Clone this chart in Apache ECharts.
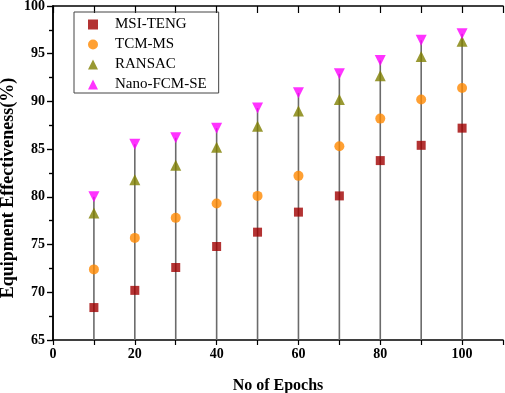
<!DOCTYPE html>
<html>
<head>
<meta charset="utf-8">
<script src="https://cdn.jsdelivr.net/npm/echarts@6/dist/echarts.min.js"></script>
<style>
  html, body { margin: 0; padding: 0; background: #fff; }
  #chart { width: 505px; height: 393px; }
</style>
</head>
<body>
<div id="chart"></div>
<script>
var epochs = [10, 20, 30, 40, 50, 60, 70, 80, 90, 100];
var msiTeng = [68.4, 70.2, 72.6, 74.8, 76.3, 78.4, 80.1, 83.8, 85.4, 87.2];
var tcmMs = [72.4, 75.7, 77.8, 79.3, 80.1, 82.2, 85.3, 88.2, 90.2, 91.4];
var ransac = [78.3, 81.8, 83.3, 85.2, 87.4, 89.0, 90.2, 92.7, 94.7, 96.3];
var nanoFcmSe = [80.0, 85.5, 86.2, 87.2, 89.3, 90.9, 92.9, 94.3, 96.4, 97.1];

var FONT = '"Liberation Serif", "DejaVu Serif", serif';

function pairs(vals) {
    var out = [];
    for (var i = 0; i < epochs.length; i++) {
        out.push([epochs[i], vals[i]]);
    }
    return out;
}

var chart = echarts.init(document.getElementById('chart'));

var option = {
    animation: false,
    backgroundColor: '#fff',
    grid: { left: 53, right: 2, top: 6, bottom: 53, containLabel: false, outerBoundsMode: 'none' },
    legend: {
        orient: 'vertical',
        left: 74,
        top: 12,
        padding: [5, 12, 1, 14],
        itemGap: 5,
        itemWidth: 10,
        itemHeight: 10,
        borderColor: '#444',
        borderWidth: 1,
        textStyle: { fontFamily: FONT, fontSize: 15, color: '#000', padding: [0, 0, 0, 12] },
        data: ['MSI-TENG', 'TCM-MS', 'RANSAC', 'Nano-FCM-SE']
    },
    xAxis: [{
        type: 'value',
        min: 0,
        max: 110,
        interval: 10,
        position: 'bottom',
        name: 'No of Epochs',
        nameLocation: 'middle',
        nameGap: 38,
        nameMoveOverlap: false,
        nameTextStyle: { fontFamily: FONT, fontSize: 16, fontWeight: 'bold', color: '#000' },
        axisLine: { lineStyle: { color: '#000', width: 1.5 } },
        axisTick: { inside: false, length: 5, lineStyle: { color: '#000', width: 1.2 } },
        axisLabel: {
            fontFamily: FONT, fontSize: 14, fontWeight: 'bold', color: '#000', margin: 7,
            formatter: function (v) { return v % 20 === 0 && v <= 100 ? String(v) : ''; }
        },
        splitLine: { show: false }
    }, {
        type: 'value',
        min: 0,
        max: 110,
        interval: 10,
        position: 'top',
        axisLine: { lineStyle: { color: '#000', width: 1.5 } },
        axisTick: { inside: true, length: 7, lineStyle: { color: '#000', width: 1.2 } },
        axisLabel: { show: false },
        splitLine: { show: false }
    }],
    yAxis: [{
        type: 'value',
        min: 65,
        max: 100,
        interval: 5,
        position: 'left',
        name: 'Equipment Effectiveness(%)',
        nameLocation: 'middle',
        nameGap: 36,
        nameMoveOverlap: false,
        nameTextStyle: {
            fontFamily: FONT, fontSize: 18, fontWeight: 'bold', color: '#000',
            padding: [0, 30, 0, 0]
        },
        axisLine: { lineStyle: { color: '#000', width: 1.5 } },
        axisTick: { inside: false, length: 6, lineStyle: { color: '#000', width: 1.2 } },
        minorTick: { show: true, splitNumber: 2, length: 4, lineStyle: { color: '#000', width: 1.2 } },
        axisLabel: { fontFamily: FONT, fontSize: 14, fontWeight: 'bold', color: '#000', margin: 8 },
        splitLine: { show: false }
    }, {
        type: 'value',
        min: 65,
        max: 100,
        interval: 5,
        position: 'right',
        axisLine: { lineStyle: { color: '#000', width: 1.5 } },
        axisTick: { inside: true, length: 6, lineStyle: { color: '#000', width: 1.2 } },
        minorTick: { show: true, splitNumber: 2, length: 4, lineStyle: { color: '#000', width: 1.2 } },
        axisLabel: { show: false },
        splitLine: { show: false }
    }],
    series: [{
        // grey stems from the axis up to the top marker
        type: 'bar',
        name: 'stem',
        barWidth: 1.6,
        itemStyle: { color: '#6b6b6b' },
        silent: true,
        z: 1,
        data: pairs(nanoFcmSe)
    }, {
        type: 'scatter',
        name: 'MSI-TENG',
        symbol: 'rect',
        symbolSize: 9,
        itemStyle: { color: '#A00000' },
        z: 3,
        data: pairs(msiTeng)
    }, {
        type: 'scatter',
        name: 'TCM-MS',
        symbol: 'circle',
        symbolSize: 10,
        itemStyle: { color: '#FF8800' },
        z: 3,
        data: pairs(tcmMs)
    }, {
        type: 'scatter',
        name: 'RANSAC',
        symbol: 'triangle',
        symbolSize: 11,
        itemStyle: { color: '#808000' },
        z: 3,
        data: pairs(ransac)
    }, {
        type: 'scatter',
        name: 'Nano-FCM-SE',
        symbol: 'triangle',
        symbolRotate: 180,
        symbolSize: 11,
        itemStyle: { color: '#FF00FF' },
        z: 3,
        data: pairs(nanoFcmSe)
    }]
};

chart.setOption(option);
</script>
</body>
</html>
